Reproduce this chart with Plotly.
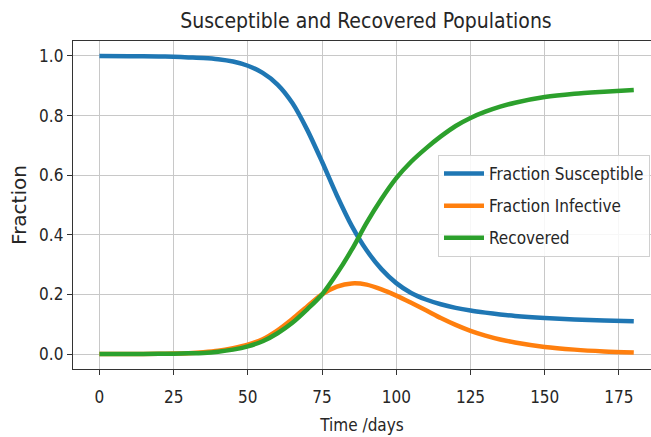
import plotly.graph_objects as go

# Epidemic model output sampled at these days
days = [0, 10, 20, 25, 30, 35, 40, 45, 50, 55, 60, 65, 70, 75, 80, 85, 90, 95,
        100, 105, 110, 115, 120, 125, 130, 135, 140, 150, 160, 170, 180]

susceptible = [1.0, 0.999, 0.998, 0.997, 0.995, 0.993, 0.989, 0.981, 0.967, 0.943,
               0.904, 0.842, 0.752, 0.645, 0.532, 0.43, 0.348, 0.285,
               0.238, 0.205, 0.183, 0.167, 0.155, 0.146, 0.139, 0.133, 0.128,
               0.121, 0.116, 0.113, 0.11]

infective = [0.0, 0.0005, 0.001, 0.002, 0.003, 0.006, 0.011, 0.02, 0.032, 0.05,
             0.08, 0.118, 0.16, 0.2, 0.226, 0.237, 0.233, 0.217,
             0.196, 0.172, 0.147, 0.121, 0.098, 0.078, 0.062, 0.049, 0.039,
             0.024, 0.015, 0.009, 0.005]

recovered = [0.0, 0.0003, 0.001, 0.0015, 0.0025, 0.004, 0.008, 0.015, 0.026, 0.043,
             0.07, 0.105, 0.15, 0.2, 0.27, 0.35, 0.44, 0.52,
             0.59, 0.645, 0.69, 0.73, 0.765, 0.792, 0.813, 0.83, 0.843,
             0.862, 0.873, 0.88, 0.886]

x_ticks = [0, 25, 50, 75, 100, 125, 150, 175]
y_ticks = [0.0, 0.2, 0.4, 0.6, 0.8, 1.0]
y_tick_labels = ["0.0", "0.2", "0.4", "0.6", "0.8", "1.0"]

FONT = "DejaVu Sans Condensed, Liberation Sans Narrow, DejaVu Sans, sans-serif"
TEXT = "#262626"

series = [
    ("Fraction Susceptible", susceptible, "#1f77b4"),
    ("Fraction Infective", infective, "#ff7f0e"),
    ("Recovered", recovered, "#2ca02c"),
]

fig = go.Figure()
for name, values, color in series:
    fig.add_trace(go.Scatter(
        x=days, y=values, name=name, mode="lines", legendgroup=name,
        line=dict(color=color, width=4.5, shape="spline", smoothing=0.8),
    ))

fig.update_layout(
    width=651, height=437,
    margin=dict(l=73, r=0, t=41, b=68),
    paper_bgcolor="white", plot_bgcolor="white",
    font=dict(family=FONT, size=17, color=TEXT),
    title=dict(
        text="Susceptible and Recovered Populations",
        font=dict(family=FONT, size=21, color=TEXT),
        x=366 / 651, xanchor="center", xref="container",
        y=1 - 21 / 437, yanchor="middle", yref="container",
    ),
    legend=dict(
        x=(438 - 73) / 578, y=(369 - 155) / 328, xanchor="left", yanchor="top",
        bgcolor="rgba(255,255,255,0.85)", bordercolor="#d0d0d0", borderwidth=1,
        font=dict(family=FONT, size=17, color=TEXT),
        traceorder="grouped", tracegroupgap=7, itemwidth=40,
    ),
    showlegend=True,
)

fig.update_xaxes(
    range=[-8.9, 185.8], tickvals=x_ticks,
    showline=True, linecolor="#333333", linewidth=1.3, mirror=True,
    showgrid=True, gridcolor="#c8c8c8", gridwidth=1,
    ticks="outside", ticklen=5, tickcolor="#333333", ticklabelstandoff=7,
    zeroline=False,
    title=dict(text="Time /days", standoff=13, font=dict(size=17)),
)
fig.update_yaxes(
    range=[-0.05, 1.05], tickvals=y_ticks, ticktext=y_tick_labels,
    showline=True, linecolor="#333333", linewidth=1.3,
    showgrid=True, gridcolor="#c8c8c8", gridwidth=1,
    ticks="outside", ticklen=5, tickcolor="#333333",
    zeroline=False,
    title=dict(text="Fraction", standoff=7,
               font=dict(family="DejaVu Sans, sans-serif", size=20)),
)

fig.write_html("out.html")
